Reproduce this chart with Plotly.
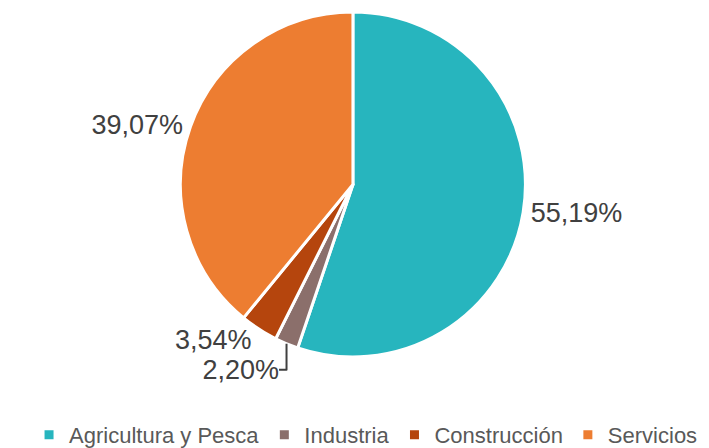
import plotly.graph_objects as go

categories = ["Agricultura y Pesca", "Industria", "Construcción", "Servicios"]
values = [55.19, 2.20, 3.54, 39.07]
colors = ["#27B5BE", "#8B6F6B", "#B5450D", "#ED7D31"]

labels_text = [f"{v:.2f}%".replace(".", ",") for v in values]

fig = go.Figure(go.Pie(
    labels=categories,
    values=values,
    text=labels_text,
    textinfo="text",
    textposition="outside",
    sort=False,
    direction="clockwise",
    rotation=0,
    automargin=False,
    marker=dict(colors=colors, line=dict(color="white", width=3)),
    textfont=dict(family="Liberation Sans, Arial", size=27, color="#404040"),
    showlegend=True,
    domain=dict(x=[0.089, 0.884], y=[0.221, 0.991]),
))

fig.update_layout(
    width=709, height=448,
    margin=dict(l=0, r=0, t=0, b=0, autoexpand=False),
    paper_bgcolor="white",
    plot_bgcolor="white",
    legend=dict(
        orientation="h",
        x=0.505, xanchor="center",
        y=0.047, yanchor="middle",
        font=dict(family="Liberation Sans, Arial", size=22, color="#595959"),
    ),
)

fig.write_html("out.html")
